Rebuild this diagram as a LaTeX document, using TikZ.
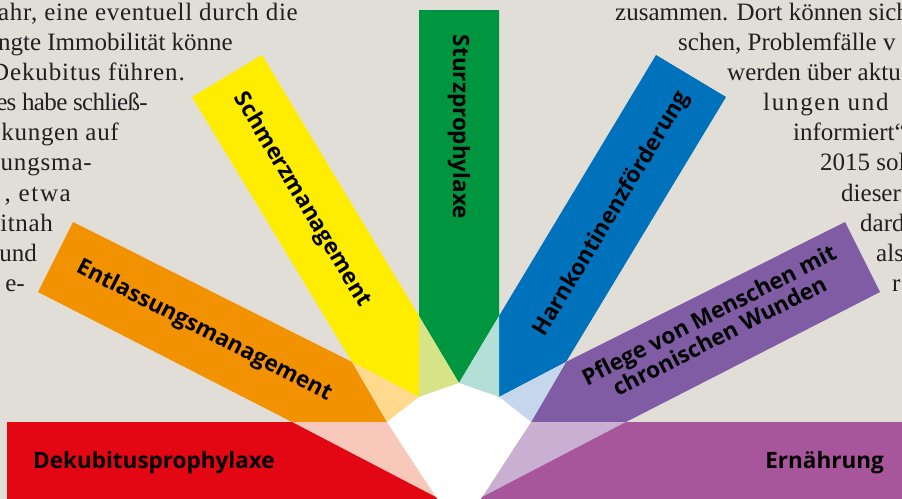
\documentclass[tikz,border=0pt]{standalone}
\usepackage{fontspec}
\setmainfont{Liberation Serif}
\newfontfamily\labfont{Open Sans}
\definecolor{bgc}{RGB}{225,222,216}
\definecolor{cgreen}{RGB}{0,150,64}
\definecolor{cyellow}{RGB}{255,237,0}
\definecolor{cblue}{RGB}{0,114,187}
\definecolor{corange}{RGB}{243,146,0}
\definecolor{cred}{RGB}{227,6,19}
\definecolor{cpurple}{RGB}{128,92,165}
\definecolor{cmagenta}{RGB}{168,86,155}
\definecolor{pgreen}{RGB}{214,227,134}
\definecolor{pcyan}{RGB}{180,223,214}
\definecolor{porange}{RGB}{255,217,142}
\definecolor{ppink}{RGB}{248,201,187}
\definecolor{pblue}{RGB}{196,215,237}
\definecolor{plilac}{RGB}{201,176,211}
\definecolor{txt}{RGB}{35,31,32}
\newcommand{\ls}[2]{{\addfontfeature{LetterSpace=#1}#2}}
\tikzset{
  lab/.style={font=\labfont\bfseries\fontsize{22.5}{22}\selectfont, text=black, inner sep=0pt, align=center},
  bodyl/.style={font=\fontsize{25}{30}\selectfont, text=txt, inner sep=0pt, anchor=base east},
  bodyr/.style={font=\fontsize{25}{30}\selectfont, text=txt, inner sep=0pt, anchor=base west}
}
\begin{document}
\begin{tikzpicture}[x=1pt,y=-1pt]
\useasboundingbox (0,0) rectangle (902,498);
\fill[bgc] (-2,-2) rectangle (904,500);

% body text, left column
\node[bodyl] (l1) at (298,20) {\ls{2.8}{ahr, eine eventuell durch die}};
\node[bodyl] (l2) at (233,50) {ngte Immobilität könne};
\node[bodyl] (l3) at (185,80) {\ls{3.5}{Dekubitus führen.}};
\node[bodyl] (l4) at (148,110) {\ls{-2.5}{es habe schließ-}};
\node[bodyl] (l5) at (119,140) {\ls{2.8}{kungen auf}};
\node[bodyl] (l6) at (92,170) {\ls{3.4}{ungsma-}};
\node[bodyl] (l7) at (71,201) {\ls{6.5}{, etwa}};
\node[bodyl] (l8) at (53,231) {\ls{2.4}{itnah}};
\node[bodyl] (l9) at (37,261) {und};
\node[bodyl] (l10) at (25,291) {e-};

% body text, right column
\node[bodyr] (r1) at (615,20) {zusammen. Dort können sich};
\node[bodyr] (r2) at (678,50) {schen, Problemfälle v};
\node[bodyr] (r3) at (727,80) {werden über aktu};
\node[bodyr] (r4) at (763,110) {\ls{6.8}{lungen und}};
\node[bodyr] (r5) at (793,140) {informiert“};
\node[bodyr] (r6) at (820,170) {2015 sol};
\node[bodyr] (r7) at (841,201) {dieser};
\node[bodyr] (r8) at (860,231) {dard};
\node[bodyr] (r9) at (876,261) {als};
\node[bodyr] (r10) at (892,291) {r};

% solid bands
\fill[cgreen] (419,10) -- (499,10) -- (499,316) -- (459,383) -- (419,316) -- cycle;
\fill[cyellow] (192,97) -- (262,55) -- (419,316) -- (419,397) -- (352,362) -- cycle;
\fill[cblue] (726,97) -- (656,55) -- (499,316) -- (499,397) -- (566,362) -- cycle;
\fill[corange] (73,222) -- (352,362) -- (387,422) -- (292,422) -- (38,292) -- cycle;
\fill[cpurple] (845,222) -- (566,362) -- (531,422) -- (626,422) -- (880,292) -- cycle;

% pale overlaps
\fill[pgreen] (419,316) -- (459,383) -- (419,397) -- cycle;
\fill[pcyan] (499,316) -- (459,383) -- (499,397) -- cycle;
\fill[porange] (352,362) -- (419,397) -- (387,422) -- cycle;
\fill[pblue] (566,362) -- (499,397) -- (531,422) -- cycle;
\fill[ppink] (292,422) -- (387,422) -- (447,515) -- cycle;
\fill[plilac] (626,422) -- (531,422) -- (471,515) -- cycle;

% bottom bands
\fill[cred] (7,422) -- (292,422) -- (453,506) -- (7,506) -- cycle;
\fill[cmagenta] (626,422) -- (910,422) -- (910,506) -- (465,506) -- cycle;

% white centre
\fill[white] (387,422) -- (419,397) -- (459,383) -- (499,397) -- (531,422) -- (476,506) -- (442,506) -- cycle;

% labels
\node[lab, rotate=-90] (sturz) at (459,127) {Sturzprophylaxe};
\node[lab, rotate=-59] (schmerz) at (302,200) {Schmerzmanagement};
\node[lab, rotate=59] (harn) at (612,214) {Harnkontinenzförderung};
\node[lab, rotate=-27] (entl) at (204,331) {Entlassungsmanagement};
\node[lab, rotate=27] (pflege) at (714,325) {Pflege von Menschen mit\\chronischen Wunden};
\node[lab, anchor=base west] (dekub) at (33,468) {Dekubitusprophylaxe};
\node[lab, anchor=base east] (ernae) at (884,468) {Ernährung};
\end{tikzpicture}
\end{document}
